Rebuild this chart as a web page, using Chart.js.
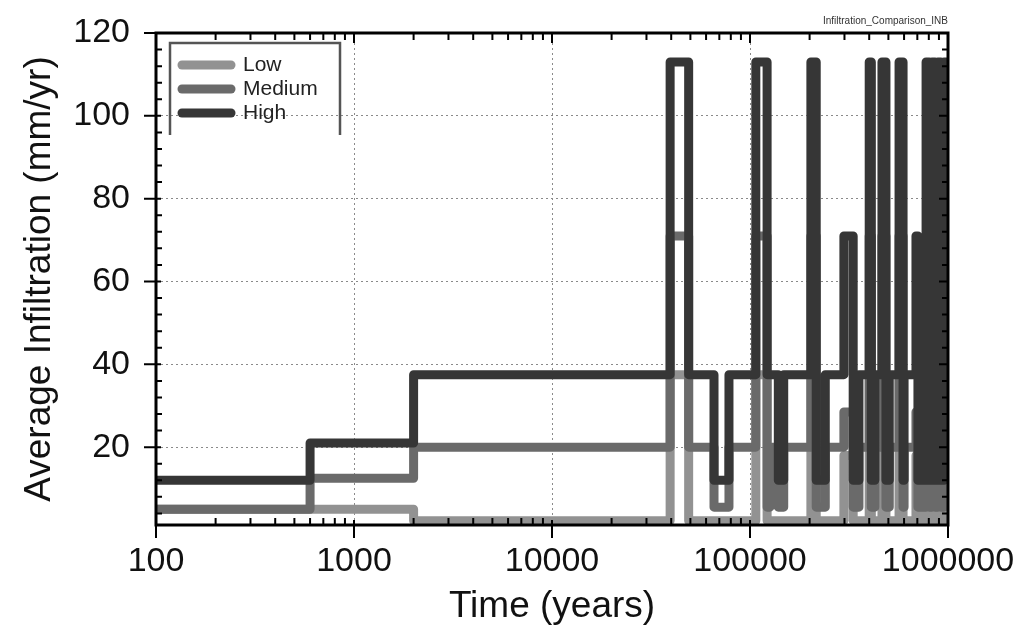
<!DOCTYPE html>
<html>
<head>
<meta charset="utf-8">
<title>Infiltration Comparison</title>
<script src="https://cdn.jsdelivr.net/npm/chart.js@4.4.0/dist/chart.umd.min.js"></script>
<style>
  html, body { margin: 0; padding: 0; background: #fff; }
  #wrap { width: 1013px; height: 640px; }
</style>
</head>
<body>
<div id="wrap"><canvas id="infilChart"></canvas></div>
<script>
// start of each climate period, years
let periodStart = [100, 600, 2000, 39500, 49000, 65800, 78300, 107000, 122000, 126000,
  139000, 148000, 203000, 216000, 240000, 298000, 332000, 355000, 400000, 410000,
  427000, 464000, 486000, 505000, 566000, 593000, 600000, 689000, 705000, 775000,
  805000, 830000, 860000, 889000, 920000, 955000, 980000];
let endTime = 1000000;

// average infiltration in each period, mm/yr
let lowInfil = [5, 5, 2.2, 37.5, 2.2, 2.2, 2.2, 37.5, 2.2, 2.2,
  2.2, 2.2, 37.5, 2.2, 2.2, 18, 2.2, 2.2, 37.5, 2.2,
  2.2, 37.5, 2.2, 2.2, 37.5, 2.2, 2.2, 18, 2.2, 37.5,
  2.2, 37.5, 2.2, 37.5, 2.2, 37.5, 2.2];
let mediumInfil = [5, 12.5, 20, 71, 20, 5.5, 20, 71, 5.5, 20,
  5.5, 20, 71, 5.5, 20, 28.5, 5.5, 20, 71, 5.5,
  20, 71, 5.5, 20, 71, 5.5, 20, 28.5, 5.5, 71,
  5.5, 71, 5.5, 71, 5.5, 71, 20];
let highInfil = [12, 21, 37.5, 113, 37.5, 12, 37.5, 113, 37.5, 37.5,
  12, 37.5, 113, 12, 37.5, 71, 12, 37.5, 113, 12,
  37.5, 113, 12, 37.5, 113, 12, 37.5, 71, 12, 113,
  12, 113, 12, 113, 12, 113, 37.5];

let decadeTicks = [100, 1000, 10000, 100000, 1000000];
let yTicks = [20, 40, 60, 80, 100, 120];

let fontFam = "'Liberation Sans', Arial, sans-serif";

function stepPoints(values) {
  let pts = periodStart.map((t, i) => ({ x: t, y: values[i] }));
  pts.push({ x: endTime, y: values[values.length - 1] });
  return pts;
}

function isDecade(v) {
  let lg = Math.log10(v);
  return Math.abs(lg - Math.round(lg)) < 1e-9;
}

// black box round the plot with inner minor ticks
let framePlugin = {
  id: "frame",
  afterDatasetsDraw(chart) {
    let ctx = chart.ctx, a = chart.chartArea;
    let xs = chart.scales.x, ys = chart.scales.y;
    ctx.save();
    ctx.strokeStyle = "#000";
    ctx.lineWidth = 2;
    ctx.beginPath();
    for (let d = 100; d < endTime; d *= 10) {
      for (let k = 2; k <= 9; k++) {
        let px = xs.getPixelForValue(d * k);
        ctx.moveTo(px, a.bottom); ctx.lineTo(px, a.bottom - 7);
        ctx.moveTo(px, a.top); ctx.lineTo(px, a.top + 7);
      }
    }
    decadeTicks.forEach(v => {
      let px = xs.getPixelForValue(v);
      ctx.moveTo(px, a.bottom + 13); ctx.lineTo(px, a.bottom - 5);
      ctx.moveTo(px, a.top); ctx.lineTo(px, a.top + 10);
    });
    for (let v = 4; v < 120; v += 4) {
      let py = ys.getPixelForValue(v);
      if (v % 20 === 0) {
        ctx.moveTo(a.left - 12, py); ctx.lineTo(a.left + 5, py);
        ctx.moveTo(a.right, py); ctx.lineTo(a.right - 9, py);
      } else {
        ctx.moveTo(a.left, py); ctx.lineTo(a.left + 6, py);
        ctx.moveTo(a.right, py); ctx.lineTo(a.right - 6, py);
      }
    }
    let py120 = ys.getPixelForValue(120);
    ctx.moveTo(a.left - 12, py120); ctx.lineTo(a.left, py120);
    ctx.stroke();
    ctx.lineWidth = 3;
    ctx.strokeRect(a.left, a.top, a.right - a.left, a.bottom - a.top);
    ctx.restore();
  },
  afterDraw(chart) {
    let ctx = chart.ctx, a = chart.chartArea;
    ctx.save();
    // run name, top right
    ctx.fillStyle = "#333";
    ctx.font = "10px " + fontFam;
    ctx.textAlign = "right";
    ctx.textBaseline = "bottom";
    ctx.fillText("Infiltration_Comparison_INB", a.right, a.top - 7);

    // legend box, open at the bottom
    ctx.strokeStyle = "#555";
    ctx.lineWidth = 2.5;
    ctx.beginPath();
    ctx.moveTo(170, 135); ctx.lineTo(170, 43); ctx.lineTo(340, 43); ctx.lineTo(340, 135);
    ctx.stroke();
    ctx.font = "21px " + fontFam;
    ctx.textAlign = "left";
    ctx.textBaseline = "middle";
    ctx.lineCap = "round";
    chart.data.datasets.forEach((ds, i) => {
      let y = 65 + i * 24;
      ctx.strokeStyle = ds.borderColor;
      ctx.lineWidth = 9;
      ctx.beginPath();
      ctx.moveTo(182, y); ctx.lineTo(231, y);
      ctx.stroke();
      ctx.fillStyle = "#222";
      ctx.fillText(ds.label, 243, y);
    });
    ctx.restore();
  }
};

let lineStyle = {
  borderWidth: 9,
  stepped: "before",
  pointRadius: 0,
  fill: false,
  borderJoinStyle: "round",
  borderCapStyle: "round"
};

let infilChart = new Chart(document.getElementById("infilChart").getContext("2d"), {
  type: "line",
  data: {
    datasets: [
      Object.assign({ label: "Low", data: stepPoints(lowInfil), borderColor: "#929292", order: 3 }, lineStyle),
      Object.assign({ label: "Medium", data: stepPoints(mediumInfil), borderColor: "#6a6a6a", order: 2 }, lineStyle),
      Object.assign({ label: "High", data: stepPoints(highInfil), borderColor: "#363636", order: 1 }, lineStyle)
    ]
  },
  options: {
    responsive: true,
    maintainAspectRatio: false,
    animation: false,
    layout: { padding: { top: 33, right: 65, left: 0, bottom: 0 } },
    plugins: {
      legend: { display: false },
      tooltip: { enabled: false }
    },
    scales: {
      x: {
        type: "logarithmic",
        min: 100,
        max: endTime,
        afterFit: s => { s.height = 115; s.paddingLeft = 0; s.paddingRight = 0; },
        grid: {
          drawTicks: false,
          lineWidth: 1,
          color: c => (c.tick && isDecade(c.tick.value) && c.tick.value > 100 && c.tick.value < endTime) ? "#8a8a8a" : "rgba(0,0,0,0)"
        },
        border: { display: false, dash: [2, 3] },
        ticks: {
          autoSkip: false,
          maxRotation: 0,
          padding: 16,
          color: "#111",
          font: { family: fontFam, size: 34 },
          callback: v => isDecade(v) ? String(v) : ""
        },
        title: {
          display: true,
          text: "Time (years)",
          color: "#111",
          font: { family: fontFam, size: 37 },
          padding: { top: 0, bottom: 11 }
        }
      },
      y: {
        min: 1.2,
        max: 120,
        afterFit: s => { s.width = 156; s.paddingTop = 0; s.paddingBottom = 0; },
        afterBuildTicks: s => { s.ticks = yTicks.map(v => ({ value: v })); },
        grid: {
          drawTicks: false,
          lineWidth: 1,
          color: c => (c.tick && c.tick.value < 120) ? "#8a8a8a" : "rgba(0,0,0,0)"
        },
        border: { display: false, dash: [2, 3] },
        ticks: {
          padding: 26,
          color: "#111",
          font: { family: fontFam, size: 34 }
        },
        title: {
          display: true,
          text: "Average Infiltration (mm/yr)",
          color: "#111",
          font: { family: fontFam, size: 37 },
          padding: { top: 18, bottom: 0 }
        }
      }
    }
  },
  plugins: [framePlugin]
});
</script>
</body>
</html>
